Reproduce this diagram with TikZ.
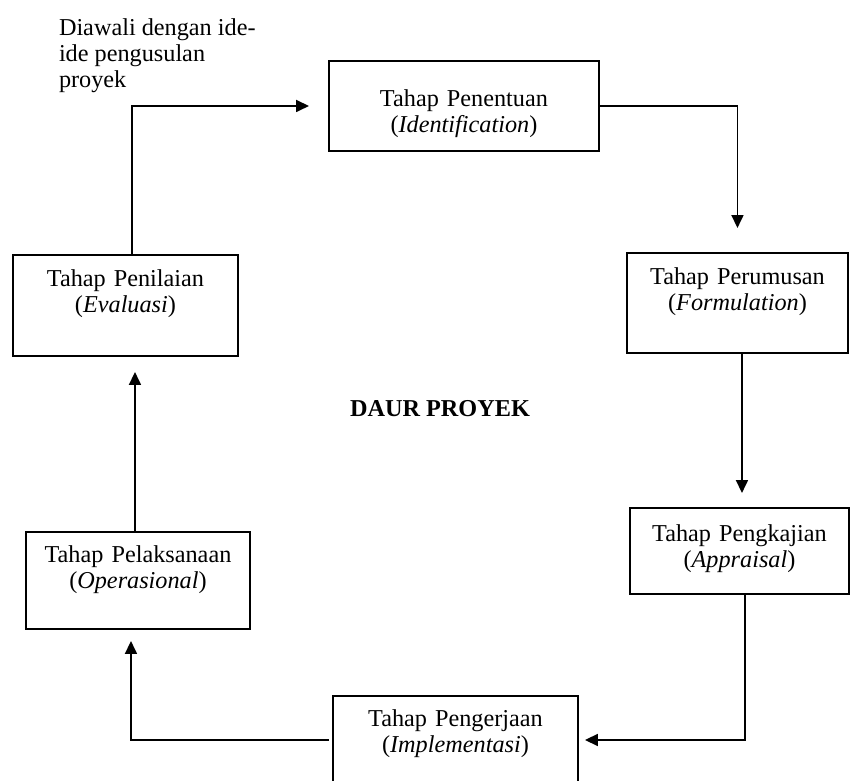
\documentclass[tikz,border=0pt]{standalone}
\usepackage{fontspec}
\setmainfont{Liberation Serif}
\usetikzlibrary{arrows.meta}

\begin{document}
\begin{tikzpicture}[x=0.02cm, y=-0.02cm,
    every node/.style={outer sep=0pt, font=\fontsize{13.8pt}{14.6pt}\selectfont},
    stage/.style={draw, line width=1pt, inner sep=0pt, align=center, anchor=north west, text height=0.64cm},
    flow/.style={line width=1pt, -{Triangle[length=0.26cm, width=0.24cm]}}]
        \useasboundingbox (0,0) rectangle (850,781);
      % awal siklus
        \node (ide) [anchor=north west, inner sep=0pt, align=left] at (59,19) {Diawali dengan ide-\\ide pengusulan\\proyek};
      % tahap-tahap
        \node (ident) [stage, text width=5.4cm, text height=0.92cm, text depth=0.88cm] at (329,61) {Tahap Penentuan\\(\textit{Identification})};
        \node (formul) [stage, text width=4.42cm, text depth=1.36cm] at (627,253) {Tahap Perumusan\\(\textit{Formulation})};
        \node (apprais) [stage, text width=4.38cm, text height=0.68cm, text depth=1.04cm] at (630,508) {Tahap Pengkajian\\(\textit{Appraisal})};
        \node (implem) [stage, text width=4.9cm, text height=0.62cm, text depth=1.14cm] at (333,696) {Tahap Pengerjaan\\(\textit{Implementasi})};
        \node (operas) [stage, text width=4.48cm, text height=0.62cm, text depth=1.32cm] at (26,532) {Tahap Pelaksanaan\\(\textit{Operasional})};
        \node (eval) [stage, text width=4.5cm, text depth=1.38cm] at (13,255) {Tahap Penilaian\\(\textit{Evaluasi})};
        \node (daur) at (440,409) {\bfseries DAUR PROYEK};
      % alur daur
        \draw [flow, shorten >=0.4cm] ([xshift=0.13cm]eval.north) |- (ident.west);
        \draw [flow, shorten >=0.5cm] (ident.east) -| (formul.north);
        \draw [flow, shorten >=0.3cm] ([xshift=0.09cm]formul.south) -- ([xshift=0.09cm]formul.south |- apprais.north);
        \draw [flow, shorten >=0.14cm] ([xshift=0.11cm]apprais.south) |- (implem.east);
        \draw [flow, shorten <=0.08cm, shorten >=0.24cm] (implem.west) -| ([xshift=-0.14cm]operas.south);
        \draw [flow, shorten >=0.32cm] ([xshift=-0.06cm]operas.north) -- ([xshift=-0.06cm]operas.north |- eval.south);
    \end{tikzpicture}
\end{document}
